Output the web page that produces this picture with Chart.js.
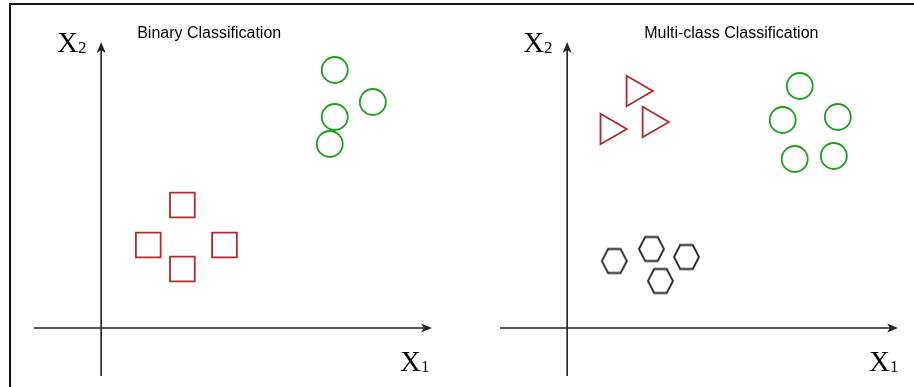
<!DOCTYPE html>
<html>
<head>
<meta charset="utf-8">
<script src="https://cdn.jsdelivr.net/npm/chart.js@4.4.1/dist/chart.umd.min.js"></script>
<style>
  html, body { margin: 0; padding: 0; background: #fff; }
  body { width: 914px; height: 387px; position: relative; overflow: hidden; }
  .frame { position: absolute; left: 9px; top: 3px; width: 960px; height: 420px;
           border-top: 2px solid #111; border-left: 2px solid #111; }
  .panel { position: absolute; top: 0; height: 387px; }
  #leftPanel { left: 0; width: 466px; }
  #rightPanel { left: 466px; width: 448px; }
</style>
</head>
<body>
<div class="frame"></div>
<div class="panel" id="leftPanel"><canvas id="binaryChart" width="466" height="387"></canvas></div>
<div class="panel" id="rightPanel"><canvas id="multiChart" width="448" height="387"></canvas></div>

<script>
// titles
const binaryTitle = 'Binary Classification';
const multiTitle = 'Multi-class Classification';

// binary panel: two classes
const binCircleX = [23.3, 27.1, 23.3, 22.8];
const binCircleY = [25.8, 22.6, 21.1, 18.4];
const binSquareX = [8.1, 4.7, 12.3, 8.1];
const binSquareY = [12.3, 8.3, 8.3, 5.9];

// multi-class panel: three classes
const multiTriangleX = [6.8, 4.2, 8.4];
const multiTriangleY = [23.7, 19.9, 20.6];
const multiCircleX = [23.2, 21.5, 27.0, 22.7, 26.6];
const multiCircleY = [24.2, 20.8, 21.1, 16.9, 17.2];
const multiHexX = [4.7, 8.4, 11.9, 9.3];
const multiHexY = [6.7, 7.9, 7.1, 4.7];

const RED = '#b3282d';
const GREEN = '#1e9e1e';
const BLACK = '#222';

function toPoints(xs, ys) {
  return xs.map((x, i) => ({ x: x, y: ys[i] }));
}

// Chart.js has no hexagon style, so build one as an image
function hexagonImage(r, ry, color) {
  const c = document.createElement('canvas');
  const s = Math.ceil(r * 2 + 4);
  c.width = s;
  c.height = s;
  const g = c.getContext('2d');
  g.strokeStyle = color;
  g.lineWidth = 1.8;
  g.lineJoin = 'miter';
  g.beginPath();
  for (let i = 0; i < 6; i++) {
    const a = Math.PI / 3 * i;
    const px = s / 2 + r * Math.cos(a);
    const py = s / 2 + ry * Math.sin(a) / Math.sin(Math.PI / 3);
    if (i === 0) g.moveTo(px, py); else g.lineTo(px, py);
  }
  g.closePath();
  g.stroke();
  return c;
}

// axes with arrowheads through the origin, plus the labels
const axisArrows = {
  id: 'axisArrows',
  beforeDatasetsDraw(chart, args, opts) {
    const { ctx, chartArea: a, scales: { x, y } } = chart;
    const x0 = x.getPixelForValue(0);
    const y0 = y.getPixelForValue(0);
    ctx.save();
    ctx.strokeStyle = BLACK;
    ctx.fillStyle = BLACK;
    ctx.lineWidth = 1.6;

    ctx.beginPath();
    ctx.moveTo(a.left, y0);
    ctx.lineTo(a.right - 6, y0);
    ctx.moveTo(x0, a.bottom);
    ctx.lineTo(x0, a.top + 6);
    ctx.stroke();

    // arrowheads
    ctx.beginPath();
    ctx.moveTo(a.right, y0);
    ctx.lineTo(a.right - 11, y0 - 4.5);
    ctx.lineTo(a.right - 8, y0);
    ctx.lineTo(a.right - 11, y0 + 4.5);
    ctx.closePath();
    ctx.moveTo(x0, a.top);
    ctx.lineTo(x0 - 4.5, a.top + 11);
    ctx.lineTo(x0, a.top + 8);
    ctx.lineTo(x0 + 4.5, a.top + 11);
    ctx.closePath();
    ctx.fill();

    // axis names
    ctx.fillStyle = '#000';
    ctx.textBaseline = 'alphabetic';
    ctx.textAlign = 'left';
    const drawName = (sub, lx, ly) => {
      ctx.font = '29px "Liberation Serif", "Times New Roman", serif';
      ctx.fillText('X', lx, ly);
      const w = ctx.measureText('X').width;
      ctx.font = '17px "Liberation Serif", "Times New Roman", serif';
      ctx.fillText(sub, lx + w, ly + 1);
    };
    drawName('2', x0 - 44, a.top + 10);
    drawName('1', a.right + opts.x1Offset, y0 + 43);

    // panel title
    ctx.font = '16px "Liberation Sans", Arial, sans-serif';
    ctx.fillText(opts.title, x0 + opts.titleOffset, 38);
    ctx.restore();
  }
};

function makeChart(id, datasets, title, titleOffset, x1Offset, padRight) {
  return new Chart(document.getElementById(id), {
    type: 'scatter',
    data: { datasets: datasets },
    options: {
      responsive: false,
      animation: false,
      layout: {
        autoPadding: false,
        padding: { left: 34, right: padRight, top: 42, bottom: 11 }
      },
      plugins: {
        legend: { display: false },
        tooltip: { enabled: false },
        axisArrows: { title: title, titleOffset: titleOffset, x1Offset: x1Offset }
      },
      scales: {
        x: { type: 'linear', min: -6.7, max: 33.0, display: false },
        y: { type: 'linear', min: -4.8, max: 28.6, display: false }
      }
    },
    plugins: [axisArrows]
  });
}

const circleStyle = {
  pointStyle: 'circle', pointRadius: 13, borderColor: GREEN,
  backgroundColor: 'rgba(0,0,0,0)', borderWidth: 1.8, clip: false
};

makeChart('binaryChart', [
  Object.assign({ label: 'Class A', data: toPoints(binCircleX, binCircleY) }, circleStyle),
  {
    label: 'Class B', data: toPoints(binSquareX, binSquareY),
    pointStyle: 'rect', pointRadius: 17.5, borderColor: RED,
    backgroundColor: 'rgba(0,0,0,0)', borderWidth: 1.8, clip: false
  }
], binaryTitle, 36, -32, 34);

makeChart('multiChart', [
  {
    label: 'Class A', data: toPoints(multiTriangleX, multiTriangleY),
    pointStyle: 'triangle', rotation: 90, pointRadius: 17.5, borderColor: RED,
    backgroundColor: 'rgba(0,0,0,0)', borderWidth: 1.8, clip: false
  },
  Object.assign({ label: 'Class B', data: toPoints(multiCircleX, multiCircleY) }, circleStyle),
  {
    label: 'Class C', data: toPoints(multiHexX, multiHexY),
    pointStyle: hexagonImage(12.5, 12, BLACK), pointRadius: 13, clip: false
  }
], multiTitle, 77, -29, 16);
</script>
</body>
</html>
